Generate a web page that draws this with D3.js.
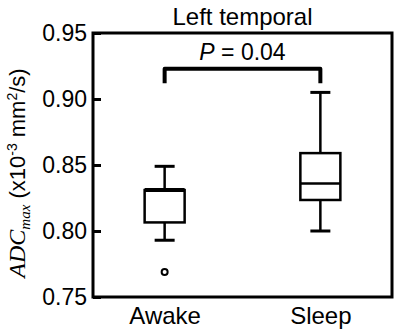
<!DOCTYPE html>
<html>
<head>
<meta charset="utf-8">
<script src="https://cdn.jsdelivr.net/npm/d3@7"></script>
<style>
  body { margin: 0; background: #fff; }
  text { font-family: "Liberation Sans", Arial, sans-serif; fill: #000; }
</style>
</head>
<body>
<svg id="chart"></svg>
<script>
const groups = ["Awake", "Sleep"];
// box stats
const whiskerLow = [0.793, 0.800];
const q1 = [0.8065, 0.8235];
const median = [0.831, 0.836];
const q3 = [0.831, 0.859];
const whiskerHigh = [0.849, 0.905];
const outliers = [[0.769], []];
const yTicks = [0.75, 0.80, 0.85, 0.90, 0.95];
const pLabel = "0.04";

const width = 400, height = 335;
const margin = { top: 33, right: 8, bottom: 38, left: 93 };

const svg = d3.select("#chart").attr("width", width).attr("height", height);

const x = d3.scalePoint()
   .domain(groups)
   .range([margin.left, width - margin.right])
   .padding(0.46);

const y = d3.scaleLinear()
   .domain([0.75, 0.95])
   .range([height - margin.bottom, margin.top]);

const boxW = 40, capW = 20;

// ----------------------- frame + axis
svg.append("rect")
   .attr("x", margin.left)
   .attr("y", margin.top)
   .attr("width", width - margin.right - margin.left)
   .attr("height", height - margin.bottom - margin.top)
   .attr("fill", "none")
   .attr("stroke", "#000")
   .attr("stroke-width", 3);

const yAxis = svg.append("g")
   .attr("transform", `translate(${margin.left},0)`)
   .call(d3.axisLeft(y).tickValues(yTicks).tickFormat(d3.format(".2f"))
      .tickSizeInner(-8).tickSizeOuter(0).tickPadding(6));
yAxis.select(".domain").remove();
yAxis.selectAll(".tick line").attr("stroke", "#000").attr("stroke-width", 3);
yAxis.selectAll(".tick text").style("font-size", "23px").attr("font-family", null);

const xAxis = svg.append("g")
   .attr("transform", `translate(0,${height - margin.bottom})`)
   .call(d3.axisBottom(x).tickSize(0).tickPadding(10));
xAxis.select(".domain").remove();
xAxis.selectAll(".tick text").style("font-size", "24px").attr("font-family", null);

// ----------------------- boxes
const g = svg.append("g").attr("stroke", "#000").attr("fill", "none");
groups.forEach((name, i) => {
   const cx = x(name);
   g.append("line")
      .attr("x1", cx).attr("x2", cx)
      .attr("y1", y(whiskerLow[i])).attr("y2", y(q1[i]))
      .attr("stroke-width", 2.5);
   g.append("line")
      .attr("x1", cx).attr("x2", cx)
      .attr("y1", y(q3[i])).attr("y2", y(whiskerHigh[i]))
      .attr("stroke-width", 2.5);
   [whiskerLow[i], whiskerHigh[i]].forEach(v => {
      g.append("line")
         .attr("x1", cx - capW / 2).attr("x2", cx + capW / 2)
         .attr("y1", y(v)).attr("y2", y(v))
         .attr("stroke-width", 3);
   });
   g.append("rect")
      .attr("x", cx - boxW / 2)
      .attr("y", y(q3[i]))
      .attr("width", boxW)
      .attr("height", y(q1[i]) - y(q3[i]))
      .attr("fill", "#fff")
      .attr("stroke-width", 2.5);
   g.append("line")
      .attr("x1", cx - boxW / 2).attr("x2", cx + boxW / 2)
      .attr("y1", y(median[i])).attr("y2", y(median[i]))
      .attr("stroke-width", median[i] === q3[i] ? 4 : 2.5);
   outliers[i].forEach(v => {
      g.append("circle")
         .attr("cx", cx).attr("cy", y(v)).attr("r", 3)
         .attr("stroke-width", 2);
   });
});

// ----------------------- significance bracket
const bracketTop = 0.923, bracketEnd = 0.912;
svg.append("path")
   .attr("d", `M${x("Awake")},${y(bracketEnd)}V${y(bracketTop)}H${x("Sleep")}V${y(bracketEnd)}`)
   .attr("fill", "none")
   .attr("stroke", "#000")
   .attr("stroke-width", 4)
   .attr("stroke-linejoin", "round");

const pText = svg.append("text")
   .attr("x", (x("Awake") + x("Sleep")) / 2)
   .attr("y", 60)
   .attr("text-anchor", "middle")
   .style("font-size", "23px");
pText.append("tspan").attr("font-style", "italic").text("P");
pText.append("tspan").text(" = " + pLabel);

// ----------------------- title
svg.append("text")
   .attr("x", (margin.left + width - margin.right) / 2)
   .attr("y", 25)
   .attr("text-anchor", "middle")
   .style("font-size", "24px")
   .text("Left temporal");

// ----------------------- y label
const yl = svg.append("text")
   .attr("transform", `translate(25,${(margin.top + height - margin.bottom) / 2 + 8}) rotate(-90)`)
   .attr("text-anchor", "middle")
   .style("font-size", "22px");
yl.append("tspan")
   .style("font-family", "'Liberation Serif', 'Times New Roman', serif")
   .attr("font-style", "italic").style("font-size", "24px").text("ADC");
yl.append("tspan")
   .style("font-family", "'Liberation Serif', 'Times New Roman', serif")
   .attr("font-style", "italic").style("font-size", "15px").attr("dy", 5).text("max");
yl.append("tspan").attr("dy", -5).text(" (x10");
yl.append("tspan").style("font-size", "14px").attr("dy", -8).text("-3");
yl.append("tspan").attr("dy", 8).text(" mm");
yl.append("tspan").style("font-size", "14px").attr("dy", -8).text("2");
yl.append("tspan").attr("dy", 8).text("/s)");
</script>
</body>
</html>
